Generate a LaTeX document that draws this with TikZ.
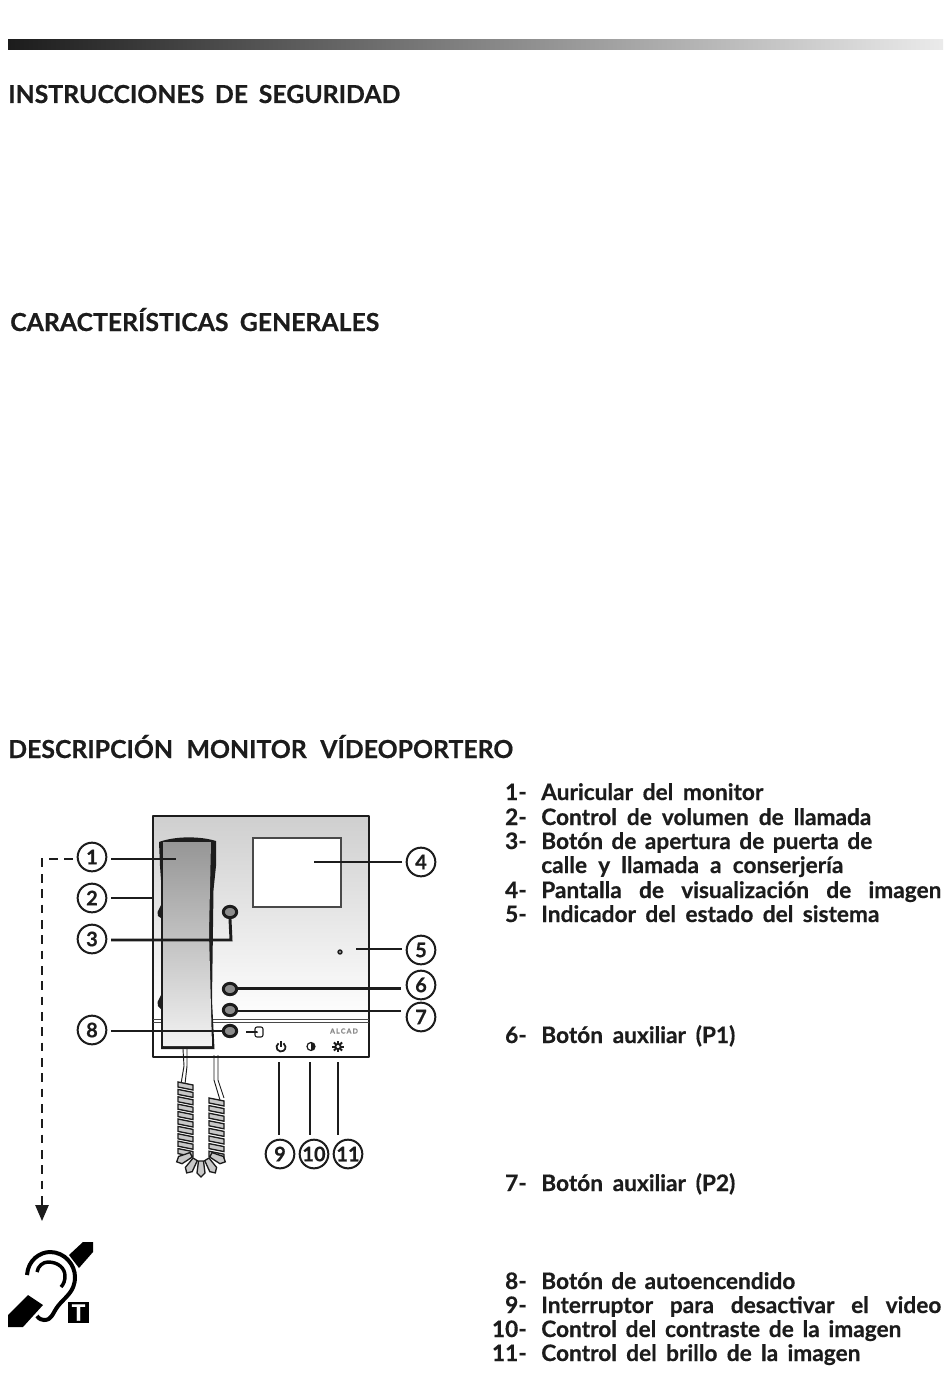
\documentclass[tikz,border=0pt]{standalone}
\usepackage{fontspec}
\setmainfont[BoldFeatures={FakeBold=0.5}]{Lato}
\usetikzlibrary{calc,arrows.meta,shapes.geometric}
\definecolor{paneltop}{HTML}{CFCFCF}
\definecolor{handsettop}{HTML}{969696}
\definecolor{handsetlow}{HTML}{F2F2F2}
\definecolor{buttongray}{HTML}{8C8C8C}
\definecolor{coilgray}{HTML}{C8C8C8}
\definecolor{inkblack}{HTML}{1C1C1C}
\definecolor{logogray}{HTML}{8A8A8A}
\newcommand{\fitline}[2]{\makebox[\dimexpr #1pt*3/4\relax][s]{#2}}
\tikzset{
  numcircle/.style={circle, draw=inkblack, line width=1.5pt, minimum size=21.5pt, inner sep=0pt, outer sep=3.5pt, font=\fontsize{15}{15}\selectfont\bfseries, text=inkblack},
  leader/.style={draw=inkblack, line width=2.2pt},
  frontbutton/.style={ellipse, fill=buttongray, draw=inkblack, line width=2.2pt, minimum width=10pt, minimum height=8.5pt, inner sep=0pt},
  heading/.style={anchor=base west, inner sep=0pt, text=inkblack, font=\fontsize{18.6}{18.6}\selectfont\bfseries},
  itemnum/.style={anchor=base east, inner sep=0pt, text=inkblack, font=\fontsize{17}{17}\selectfont\bfseries},
  itemtext/.style={anchor=base west, inner sep=0pt, text=inkblack, font=\fontsize{17}{17}\selectfont\bfseries}
}
\begin{document}
\begin{tikzpicture}[x=0.75pt, y=-0.75pt]

  % Page frame
  \useasboundingbox (0, 0) rectangle (950, 1373);
  \fill[white] (0, 0) rectangle (950, 1373);

  % Top gradient bar
  \shade[left color=inkblack, right color=black!8] (8, 40) rectangle (943, 50);

  % Section headings
  \node[heading] (headsafety) at (8, 103) {\fitline{392}{INSTRUCCIONES DE SEGURIDAD}};
  \node[heading] (headfeatures) at (10, 331) {\fitline{369}{CARACTERÍSTICAS GENERALES}};
  \node[heading] (headmonitor) at (8, 758) {\fitline{505}{DESCRIPCIÓN MONITOR VÍDEOPORTERO}};

  % Numbered list
  \foreach \num/\label/\ypos/\wid in {
    1/Auricular del monitor/800/222,
    2/Control de volumen de llamada/825/330,
    3/Botón de apertura de puerta de/849/331,
    4/Pantalla de visualización de imagen/898/400,
    5/Indicador del estado del sistema/922/338,
    6/Botón auxiliar (P1)/1043/194,
    7/Botón auxiliar (P2)/1191/194,
    8/Botón de autoencendido/1289/254,
    9/Interruptor para desactivar el video/1313/400,
    10/Control del contraste de la imagen/1337/360,
    11/Control del brillo de la imagen/1361/319} {
    \node[itemnum] (num\num) at (527, \ypos) {\num-};
    \node[itemtext] (item\num) at (541, \ypos) {\fitline{\wid}{\label}};
  }
  \node[itemtext] (item3b) at (541, 873) {\fitline{302}{calle y llamada a conserjería}};

  % Monitor body
  \shade[top color=paneltop, bottom color=white] (153, 816) rectangle (369, 1020);
  \draw[inkblack, line width=1.7pt, line join=round] (153, 816) rectangle (369, 1057);
  \draw[inkblack!80, line width=0.6pt] (153, 1019) -- (369, 1019);
  \draw[inkblack!80, line width=0.6pt] (153, 1022) -- (369, 1022);

  % Screen
  \filldraw[fill=white, draw=inkblack!80, line width=1pt] (253, 838) rectangle (341, 907);

  % Handset back
  \fill[inkblack] (159, 842) .. controls (175, 836) and (200, 836) .. (216, 841)
    -- (216, 866) -- (213.5, 890) -- (212, 1000) -- (214.5, 1049) -- (161, 1049)
    -- (161, 880) -- (160, 866) -- cycle;
  \fill[inkblack] (157.5, 912) -- (161, 905) -- (161, 918) -- (158, 916) -- cycle;
  \fill[inkblack] (157.5, 1002) -- (161, 995) -- (161, 1009) -- (158, 1006) -- cycle;

  % Handset front
  \shade[top color=handsettop, bottom color=handsetlow]
    (163, 842) -- (211, 842) -- (209, 933) -- (212, 1046) -- (163.5, 1046) -- cycle;

  % Cords
  \draw[inkblack, line width=0.7pt] (183, 1049) -- (184, 1066) -- (181, 1084);
  \draw[inkblack, line width=0.7pt] (187, 1049) -- (187, 1066) -- (185, 1084);
  \draw[inkblack, line width=0.7pt] (214, 1055) -- (214, 1080) -- (220, 1100);
  \draw[inkblack, line width=0.7pt] (218, 1055) -- (218, 1080) -- (224, 1098);

  % Coiled cable
  \foreach \i in {0,...,9} {
    \filldraw[fill=coilgray, draw=inkblack, line width=1pt]
      (178, 1082+7.4*\i) -- (193, 1085+7.4*\i) -- (193, 1090+7.4*\i) -- (178, 1087+7.4*\i) -- cycle;
  }
  \foreach \i in {0,...,7} {
    \filldraw[fill=coilgray, draw=inkblack, line width=1pt]
      (209, 1098+7.6*\i) -- (224, 1101+7.6*\i) -- (224, 1106+7.6*\i) -- (209, 1103+7.6*\i) -- cycle;
  }
  \foreach \a in {-64,-32,0,32,64} {
    \begin{scope}[shift={(201, 1150)}, rotate=\a]
      \filldraw[fill=coilgray, draw=inkblack, line width=1pt]
        (-2.5, 11) -- (2.5, 11) -- (4, 23) -- (0, 27) -- (-4, 23) -- cycle;
    \end{scope}
  }

  % Front buttons
  \node[frontbutton] (btn3) at (230, 912) {};
  \node[frontbutton] (btn6) at (230, 989) {};
  \node[frontbutton] (btn7) at (230, 1010) {};
  \node[frontbutton] (btn8) at (230, 1031) {};

  % Status light
  \filldraw[fill=buttongray, draw=inkblack, line width=1pt] (340, 952) circle (2);

  % Door symbol next to button 8
  \draw[inkblack, line width=0.8pt, rounded corners=1.5pt] (255, 1027) -- (263, 1027) -- (263, 1037) -- (255, 1037) -- cycle;
  \draw[inkblack, line width=0.8pt] (246, 1032) -- (257, 1032);
  \fill[inkblack] (257, 1032) circle (1);

  % Brand
  \node[inner sep=0pt, text=logogray, font=\fontsize{5.2}{5.2}\selectfont\bfseries] (brand) at (344, 1031) {A\,L\,C\,A\,D};

  % Power symbol
  \draw[inkblack, line width=1.3pt] (278.5, 1043.3) arc (236:-56:4.5);
  \draw[inkblack, line width=1.3pt] (281, 1041) -- (281, 1047);

  % Contrast symbol
  \draw[inkblack, line width=0.9pt] (311, 1046.5) circle (4);
  \fill[inkblack] (311, 1042.5) arc (-90:90:4) -- cycle;

  % Brightness symbol
  \foreach \a in {0,45,...,315} {
    \draw[inkblack, line width=1.5pt] (338, 1046.5) -- ++(\a:5.8);
  }
  \filldraw[fill=white, draw=inkblack, line width=1.3pt] (338, 1046.5) circle (2.6);

  % Number circles
  \node[numcircle] (n1) at (92, 857) {1};
  \node[numcircle] (n2) at (92, 898) {2};
  \node[numcircle] (n3) at (92, 939) {3};
  \node[numcircle] (n4) at (421, 862) {4};
  \node[numcircle] (n5) at (421, 950) {5};
  \node[numcircle] (n6) at (421, 985) {6};
  \node[numcircle] (n7) at (421, 1017) {7};
  \node[numcircle] (n8) at (92, 1030) {8};
  \node[numcircle] (n9) at (280, 1154) {9};
  \node[numcircle] (n10) at (314, 1154) {10};
  \node[numcircle] (n11) at (348, 1154) {11};

  % Leader lines
  \coordinate (end1) at (176, 859);
  \coordinate (end2) at (153, 898);
  \coordinate (end3) at (231, 940);
  \coordinate (end4) at (314, 862);
  \coordinate (end5) at (356, 949);
  \coordinate (end6) at (401, 988.5);
  \coordinate (end7) at (401, 1011);
  \coordinate (end9) at (279, 1062);
  \coordinate (end10) at (310, 1062);
  \coordinate (end11) at (338, 1062);
  \draw[leader] (end1 -| n1.east) -- (end1);
  \draw[leader] (end2 -| n2.east) -- (end2);
  \draw[leader] (end3 -| n3.east) -- (end3) -- (btn3.south);
  \draw[leader] (end4 -| n4.west) -- (end4);
  \draw[leader] (end5 -| n5.west) -- (end5);
  \draw[leader] (end6) -- (btn6.east |- end6);
  \draw[leader] (end7) -- (btn7.east |- end7);
  \draw[leader] (btn8.west) -- (btn8.west -| n8.east);
  \draw[leader] (end9) -- (end9 |- n9.north);
  \draw[leader] (end10) -- (end10 |- n10.north);
  \draw[leader] (end11) -- (end11 |- n11.north);

  % Dashed route to the loop symbol
  \coordinate (bend) at (42, 859);
  \coordinate (droptip) at (42, 1221);
  \draw[inkblack, line width=1.1pt, dash pattern=on 6.5pt off 5pt, -{Triangle[width=10pt, length=12pt]}]
    (n1.west |- bend) -- (bend) -- (droptip);

  % Hearing loop symbol
  \fill[black] (83, 1242) -- (93, 1242) -- (93, 1252) -- (79, 1268) -- (69, 1255) -- cycle;
  \fill[black] (28, 1295) -- (43, 1305) -- (23, 1327) -- (8, 1327) -- (8, 1315) -- cycle;
  \draw[black, line width=3pt] (27, 1275) .. controls (28, 1260) and (40, 1252) .. (50, 1252)
    .. controls (65, 1252) and (75, 1265) .. (75, 1277)
    .. controls (75, 1292) and (65, 1297) .. (58, 1306)
    .. controls (52, 1314) and (52, 1320) .. (44, 1320) .. controls (42, 1320) and (39, 1319) .. (37, 1316);
  \draw[black, line width=2.6pt] (37, 1272) .. controls (38, 1266) and (43, 1262) .. (48, 1262)
    .. controls (58, 1262) and (65, 1268) .. (65, 1276) .. controls (65, 1280) and (64, 1284) .. (61, 1287);
  \node[fill=black, text=white, minimum size=15.75pt, inner sep=0pt, font=\fontsize{17}{17}\selectfont\bfseries] (tcoil) at (78.5, 1312.5) {T};

\end{tikzpicture}
\end{document}
